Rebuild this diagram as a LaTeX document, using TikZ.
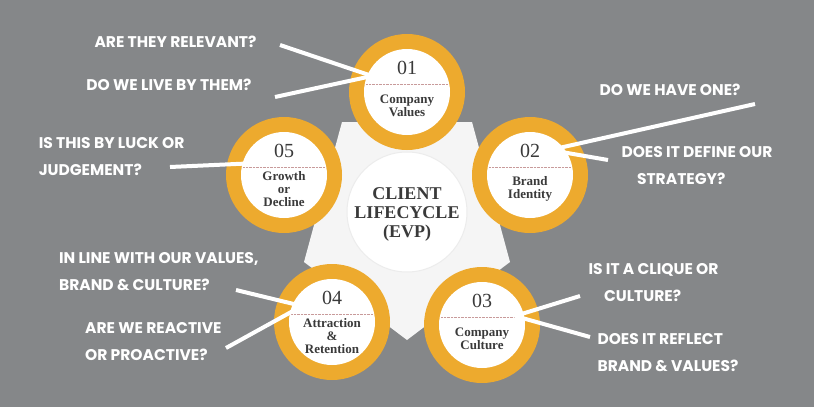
\documentclass[tikz,border=0pt]{standalone}
\usepackage{fontspec}
\setmainfont{Liberation Serif}
\newfontfamily\handfont{Poppins}
\begin{document}
\begin{tikzpicture}[x=1pt,y=-1pt,
  ring/.style={circle,fill=ringyellow,minimum size=116pt},
  core/.style={circle,fill=white,minimum size=86pt},
  num/.style={font=\fontsize{20}{20}\selectfont,text=textgray},
  title/.style={font=\bfseries\fontsize{13}{13}\selectfont,text=textgray,align=center},
  ask/.style={font=\handfont\bfseries\fontsize{15.5}{27}\selectfont,text=white,align=left},
  wire/.style={white,line width=4pt}]
\definecolor{bggray}{HTML}{858789}
\definecolor{ringyellow}{HTML}{EDAA2E}
\definecolor{textgray}{HTML}{3A3A3A}
\definecolor{sepred}{HTML}{C89A9A}
\fill[bggray] (0,0) rectangle (814,407);
\useasboundingbox (0,0) rectangle (814,407);

% white pentagon behind
\fill[white!92!gray] (472,122) -- (510,262) -- (407,340) -- (304,262) -- (342,122) -- cycle;

% satellite circles
\foreach \n/\x/\y/\t in {1/407/92/{Company\\Values},2/530/175/{Brand\\Identity},3/482/325/{Company\\Culture},4/332/322/{Attraction\\\&\\Retention},5/284/175/{Growth\\or\\Decline}}{
  \node[ring] (r\n) at (\x,\y) {};
  \node[core] (c\n) at (\x,\y) {};
  \draw[sepred,densely dotted] (\x-41,\y-8) -- (\x+41,\y-8);
  \node[num] at (\x,\y-24) {0\n};
  \node[title] at (\x,\y+14) {\t};
}

% centre
\node[circle,fill=white,minimum size=120pt,draw=white!85!gray,line width=1pt] (hub) at (407,212) {};
\node[font=\bfseries\fontsize{18}{19}\selectfont,text=textgray,align=center] at (407,214) {CLIENT\\LIFECYCLE\\(EVP)};

% questions
\node[ask,anchor=east] (q1) at (260,42) {ARE THEY RELEVANT?};
\node[ask,anchor=east] (q2) at (255,85) {DO WE LIVE BY THEM?};
\node[ask,anchor=west] (q3) at (596,90) {DO WE HAVE ONE?};
\node[ask,anchor=west] (q4) at (618,166) {DOES IT DEFINE OUR\\\quad STRATEGY?};
\node[ask,anchor=east] (q5) at (188,157) {IS THIS BY LUCK OR\\JUDGEMENT?};
\node[ask,anchor=east] (q6) at (262,272) {IN LINE WITH OUR VALUES,\\BRAND \& CULTURE?};
\node[ask,anchor=east] (q7) at (225,342) {ARE WE REACTIVE\\OR PROACTIVE?};
\node[ask,anchor=west] (q8) at (585,283) {IS IT A CLIQUE OR\\\quad CULTURE?};
\node[ask,anchor=west] (q9) at (594,353) {DOES IT REFLECT\\BRAND \& VALUES?};

\coordinate (e1) at (372,76);
\coordinate (e2) at (550,150);
\coordinate (e5) at (258,163);
\coordinate (e4) at (302,306);
\coordinate (e3) at (515,316);
\draw[wire] (280,45) -- (e1);
\draw[wire] (275,97) -- (e1);
\draw[wire] (755,104) -- (e2);
\draw[wire] (608,160) -- (e2);
\draw[wire] (170,167) -- (e5);
\draw[wire] (236,290) -- (e4);
\draw[wire] (226,348) -- (e4);
\draw[wire] (580,296) -- (e3);
\draw[wire] (590,337) -- (e3);
\end{tikzpicture}
\end{document}
